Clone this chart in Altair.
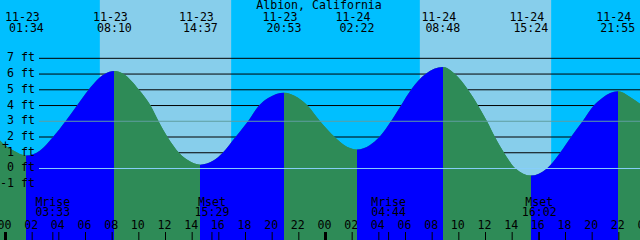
import altair as alt
import pandas as pd

# ---------------- values ----------------
title_text = "Albion, California"

tide_times = ["11-23 01:34", "11-23 08:10", "11-23 14:37", "11-23 20:53",
              "11-24 02:22", "11-24 08:48", "11-24 15:24", "11-24 21:55"]
tide_kinds = ["Low", "High", "Low", "High", "Low", "High", "Low", "High"]
tide_feet = [0.83, 6.19, 0.24, 4.82, 1.21, 6.45, -0.45, 4.90]

# intermediate readings of the tide curve (hours after 11-23 00:00, feet)
curve_hours = [-0.4125, 0.0, 0.59,
               2.59, 3.56, 4.50, 5.36, 6.23, 7.43,
               8.85, 10.01, 10.88, 11.48, 12.15, 13.01, 13.73,
               15.59, 16.29, 17.25, 18.19, 19.01, 19.73,
               21.94, 22.65, 23.59, 24.69, 25.39,
               27.34, 28.04, 28.91, 29.66, 30.41, 31.50,
               33.71, 34.69, 35.44, 36.11, 36.71, 37.39, 38.25,
               40.61, 41.59, 42.41, 43.28, 44.12, 44.78,
               46.84, 47.5875]
curve_feet = [1.78, 1.46, 1.15,
              1.15, 2.0, 3.0, 4.0, 5.0, 6.0,
              6.0, 5.0, 4.0, 3.0, 2.0, 1.0, 0.5,
              0.5, 1.0, 2.0, 3.0, 4.0, 4.5,
              4.5, 4.0, 3.0, 2.0, 1.5,
              1.5, 2.0, 3.0, 4.0, 5.0, 6.0,
              6.0, 5.0, 4.0, 3.0, 2.0, 1.0, 0.0,
              0.0, 1.0, 2.0, 3.0, 4.0, 4.5,
              4.55, 4.12]

sun_times = ["11-23 07:05", "11-23 16:55", "11-24 07:05", "11-24 16:55"]
moon_times = ["11-23 03:33", "11-23 15:29", "11-24 04:44", "11-24 16:02"]
moon_names = ["Mrise", "Mset", "Mrise", "Mset"]

level_feet = [-1, 0, 1, 2, 3, 4, 5, 6, 7]
hour_ticks = list(range(0, 49, 2))
midnights = [0, 24]

start_hour, end_hour = -0.4125, 47.5875
feet_min, feet_max = -4.543, 10.705

# ---------------- helpers ----------------
def to_hours(s):
    d, t = s.split()
    day = int(d.split("-")[1]) - 23
    hh, mm = t.split(":")
    return day * 24 + int(hh) + int(mm) / 60.0

FONT = "DejaVu Sans Mono"
FS = 11.6
W, H = 640, 240
RISE_C, FALL_C = "#0000FF", "#2E8B57"

xs = alt.Scale(domain=[start_hour, end_hour], nice=False, zero=False)
ys = alt.Scale(domain=[feet_min, feet_max], nice=False, zero=False)

def X(field):
    return alt.X(field, type="quantitative", scale=xs, axis=None)

def Y(field):
    return alt.Y(field, type="quantitative", scale=ys, axis=None)

# ---------------- tide curve: one continuous area ----------------
ext_h = [to_hours(t) for t in tide_times]
curve_df = pd.DataFrame({"hours": list(curve_hours) + ext_h,
                         "feet": list(curve_feet) + tide_feet}
                        ).sort_values("hours").reset_index(drop=True)

# fill: blue while the tide rises (towards a High), green while it falls
span = end_hour - start_hour
stops = []
prev = 0.0
for h, kind in zip(ext_h, tide_kinds):
    c = RISE_C if kind == "High" else FALL_C
    off = round((h - start_hour) / span, 5)
    stops.append({"color": c, "offset": prev})
    stops.append({"color": c, "offset": off})
    prev = off
last_c = FALL_C if tide_kinds[-1] == "High" else RISE_C
stops.append({"color": last_c, "offset": prev})
stops.append({"color": last_c, "offset": 1.0})
water_grad = {"gradient": "linear", "x1": 0, "y1": 0, "x2": 1, "y2": 0, "stops": stops}

water_base = alt.Chart(curve_df).mark_area(interpolate="monotone", color=FALL_C).encode(
    x=X("hours"), y=Y("feet"), y2=alt.datum(feet_min))
water = alt.Chart(curve_df).mark_area(interpolate="monotone", color=water_grad).encode(
    x=X("hours"), y=Y("feet"), y2=alt.datum(feet_min))

# ---------------- sky bands ----------------
sun_h = [to_hours(t) for t in sun_times]
bounds = [start_hour] + sun_h + [end_hour]
sky_rows = []
for i in range(len(bounds) - 1):
    sky_rows.append({"start": bounds[i], "end": bounds[i + 1],
                     "kind": "day" if i % 2 == 1 else "night"})
sky_df = pd.DataFrame(sky_rows)

sky_night = alt.Chart(sky_df).transform_filter(alt.datum.kind == "night").mark_rect(
    color="#00BFFF").encode(x=X("start"), x2="end", y=alt.value(0), y2=alt.value(H))
sky_day = alt.Chart(sky_df).transform_filter(alt.datum.kind == "day").mark_rect(
    color="#87CEEB").encode(x=X("start"), x2="end", y=alt.value(0), y2=alt.value(H))

# ---------------- level lines ----------------
lvl_df = pd.DataFrame({"feet": level_feet})
lvl_df["label"] = lvl_df["feet"].map(lambda v: f"{v} ft")

black_lines = alt.Chart(lvl_df).transform_filter(
    "datum.feet != 0 && datum.feet != 3").mark_rule(color="black", strokeWidth=1).encode(
    x=alt.value(39), x2=alt.value(W), y=Y("feet"))

zero_line = alt.Chart(lvl_df).transform_filter("datum.feet == 0").mark_rule(
    color="#87CEFA", strokeWidth=1).encode(x=alt.value(39), x2=alt.value(W), y=Y("feet"))
mid_line = alt.Chart(lvl_df).transform_filter("datum.feet == 3").mark_rule(
    color="#5F9EA0", strokeWidth=1).encode(x=alt.value(39), x2=alt.value(W), y=Y("feet"))

level_text = alt.Chart(lvl_df).mark_text(
    font=FONT, fontSize=FS, align="right", baseline="middle", color="black").encode(
    x=alt.value(35), y=Y("feet"), text="label:N")

# ---------------- top labels ----------------
ev_df = pd.DataFrame({
    "hours": ext_h,
    "date": [t.split()[0] for t in tide_times],
    "time": [t.split()[1] for t in tide_times],
})
ev_date = alt.Chart(ev_df).mark_text(font=FONT, fontSize=FS, baseline="middle",
                                     color="black", dx=-4).encode(
    x=X("hours"), y=alt.value(17.5), text="date:N")
ev_time = alt.Chart(ev_df).mark_text(font=FONT, fontSize=FS, baseline="middle",
                                     color="black").encode(
    x=X("hours"), y=alt.value(29), text="time:N")

title_df = pd.DataFrame({"t": [title_text]})
title_mark = alt.Chart(title_df).mark_text(font=FONT, fontSize=FS, baseline="middle",
                                           color="black").encode(
    x=alt.value(319), y=alt.value(6), text="t:N")

# "+" marker on the curve at midnight
plus_df = pd.DataFrame({"hours": [0.0], "feet": [1.46], "t": ["+"]})
plus_mark = alt.Chart(plus_df).mark_text(font=FONT, fontSize=FS, baseline="middle",
                                         color="black").encode(
    x=X("hours"), y=Y("feet"), text="t:N")

# ---------------- bottom axis ----------------
hr_df = pd.DataFrame({"hours": hour_ticks})
hr_df["label"] = hr_df["hours"].map(lambda h: f"{h % 24:02d}")
hr_text = alt.Chart(hr_df).mark_text(font=FONT, fontSize=FS, baseline="middle",
                                     color="black", dx=-1).encode(
    x=X("hours"), y=alt.value(226), text="label:N")
hr_ticks = alt.Chart(hr_df).mark_rule(color="black", strokeWidth=1).encode(
    x=X("hours"), y=alt.value(232), y2=alt.value(H))

mid_df = pd.DataFrame({"hours": midnights})
mid_ticks = alt.Chart(mid_df).mark_rule(color="black", strokeWidth=3).encode(
    x=X("hours"), y=alt.value(232), y2=alt.value(H))

moon_df = pd.DataFrame({
    "hours": [to_hours(t) for t in moon_times],
    "name": moon_names,
    "time": [t.split()[1] for t in moon_times],
})
moon_ticks = alt.Chart(moon_df).mark_rule(color="black", strokeWidth=1).encode(
    x=X("hours"), y=alt.value(232), y2=alt.value(H))
moon_name = alt.Chart(moon_df).mark_text(font=FONT, fontSize=FS, baseline="middle",
                                         color="black").encode(
    x=X("hours"), y=alt.value(202.5), text="name:N")
moon_time = alt.Chart(moon_df).mark_text(font=FONT, fontSize=FS, baseline="middle",
                                         color="black").encode(
    x=X("hours"), y=alt.value(213), text="time:N")

chart = alt.layer(
    sky_night, sky_day, black_lines, water_base, water, zero_line, mid_line,
    level_text, ev_date, ev_time, title_mark, plus_mark,
    hr_text, hr_ticks, mid_ticks, moon_ticks, moon_name, moon_time,
).properties(width=W, height=H, padding=0, autosize="none").configure_view(strokeWidth=0)

chart.save("out.html", embed_options={"renderer": "svg", "actions": False})
